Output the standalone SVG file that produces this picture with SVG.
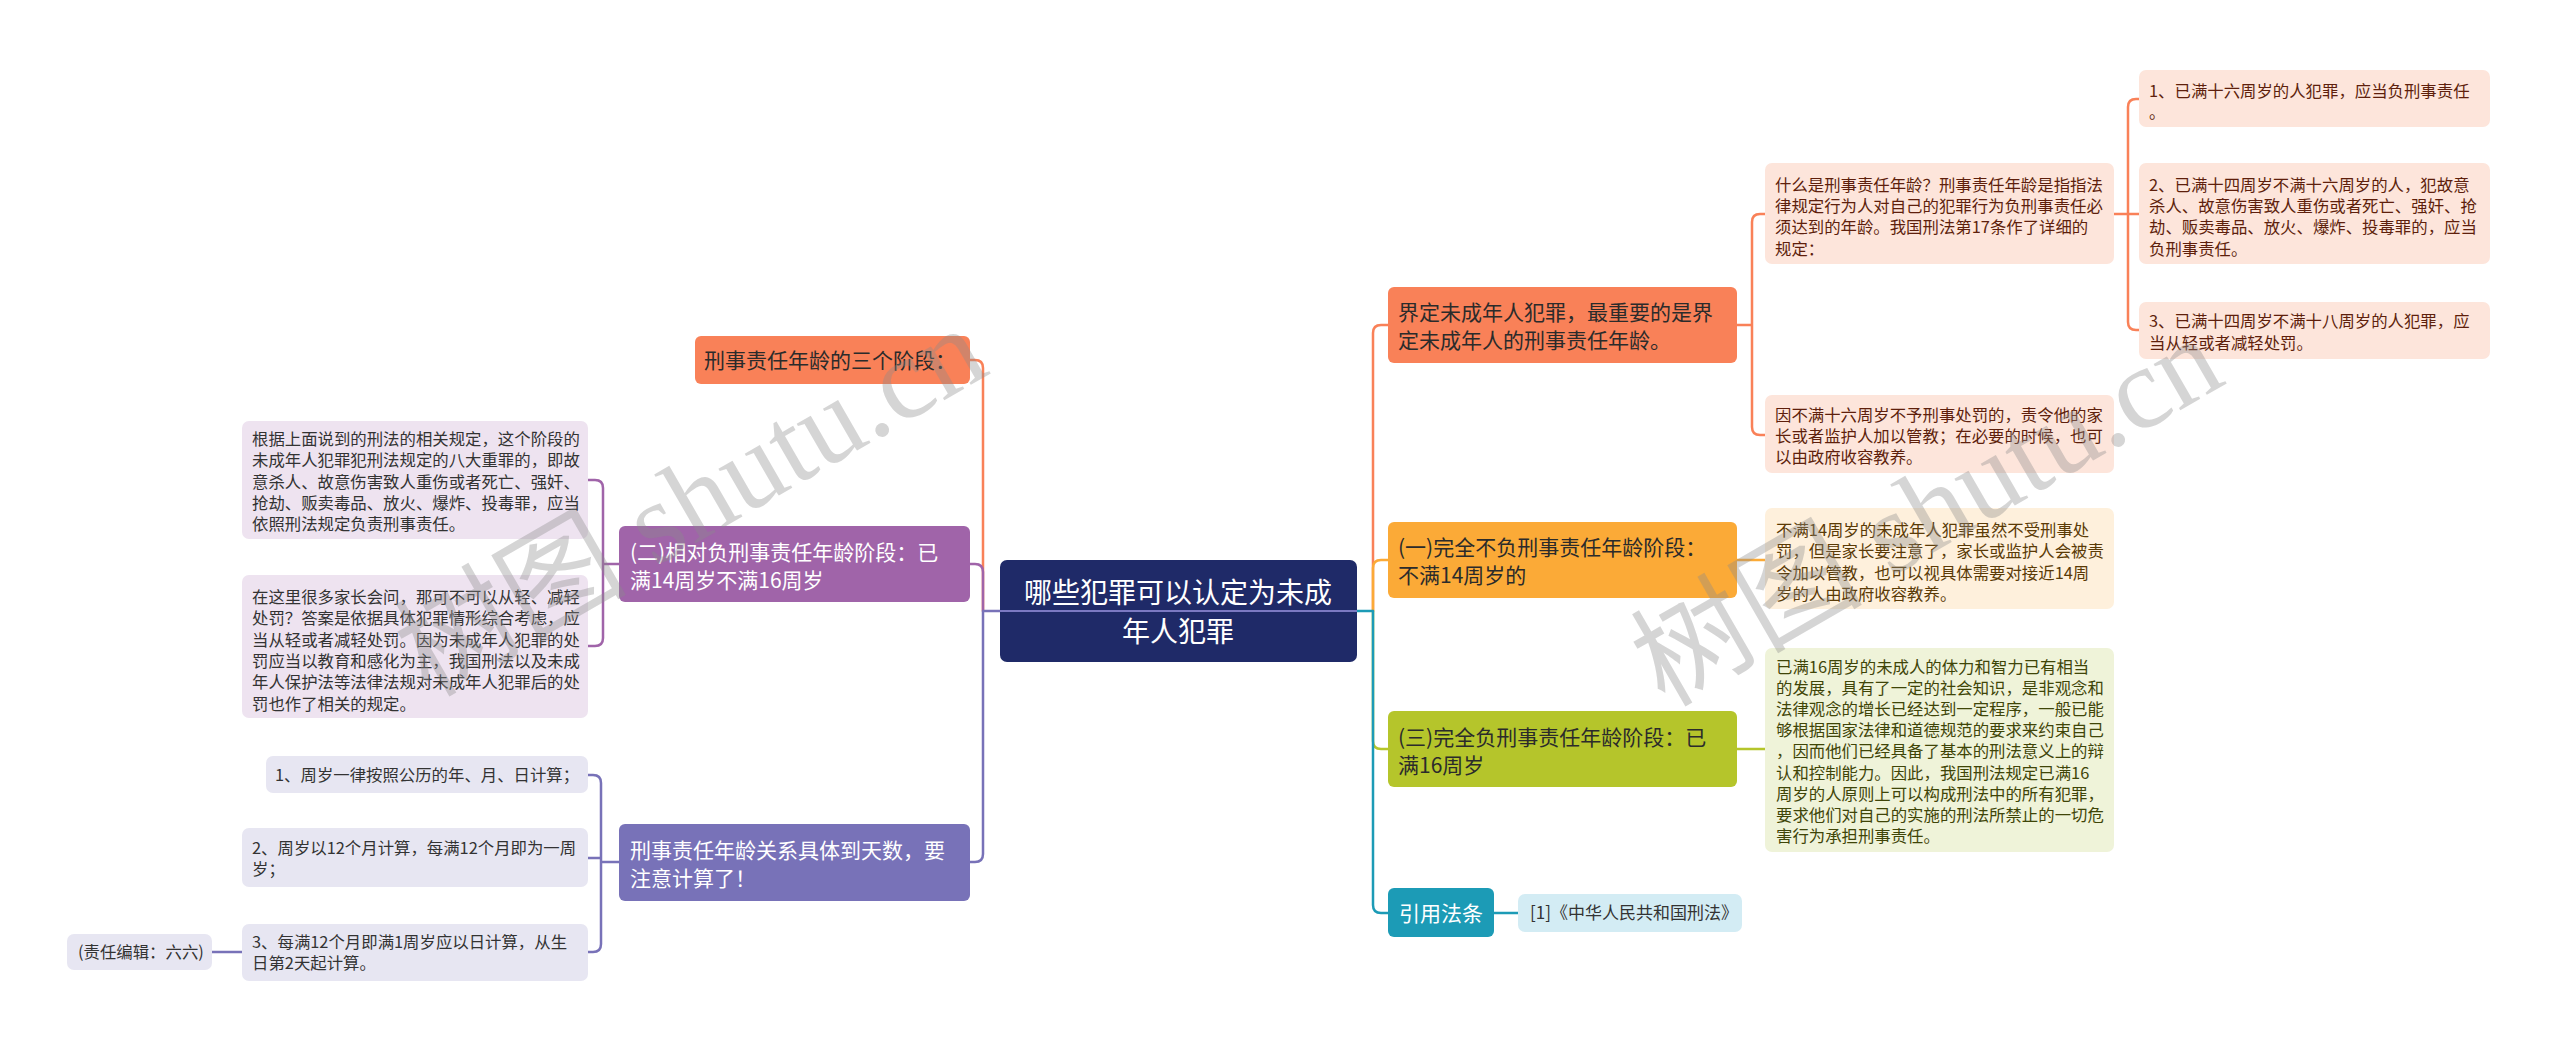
<svg xmlns="http://www.w3.org/2000/svg" width="2560" height="1052" viewBox="0 0 2560 1052">
<style>
text{font-family:"Noto Sans CJK SC","Liberation Sans",sans-serif;}
.h{font-size:21px;}
.s{font-size:16.4px;}
.w{fill:#ffffff;}
.d{fill:#2b2b2b;}
.pk{fill:#5e1f0c;}
.cr{fill:#5a3a06;}
.gr{fill:#3f4508;}
.lv{fill:#333333;}
.c{fill:none;stroke-width:2.5;stroke-linecap:round;stroke-linejoin:round;}
.wm{font-family:"Liberation Serif","Noto Sans CJK SC",serif;font-size:116px;fill:#8a8a8a;fill-opacity:0.36;}
</style>
<rect width="2560" height="1052" fill="#ffffff"/>

<g id="connectors">
<path class="c" stroke="#F98158" d="M970,360 H975 Q983,360 983,368 V611"/>
<path class="c" stroke="#A064A9" d="M970,564 H975 Q983,564 983,572 V611"/>
<path class="c" stroke="#7872B8" d="M970,862 H975 Q983,862 983,854 V611 H1000"/>
<path class="c" stroke="#A064A9" d="M619,564 H603 M588,480 H595 Q603,480 603,488 V638 Q603,646 595,646 H588"/>
<path class="c" stroke="#7872B8" d="M619,862 H601 M588,775 H593 Q601,775 601,783 V944 Q601,952 593,952 H588 M601,858 H588 M244,952 H212"/>
<path class="c" stroke="#F98158" d="M1373,611 V333 Q1373,325 1381,325 H1388"/>
<path class="c" stroke="#FBAA37" d="M1373,611 V568 Q1373,560 1381,560 H1388"/>
<path class="c" stroke="#B5C52B" d="M1373,611 V741 Q1373,749 1381,749 H1388"/>
<path class="c" stroke="#1C9BB6" d="M1357,611 H1373 V905 Q1373,913 1381,913 H1388"/>
<path class="c" stroke="#F98158" d="M1737,325 H1752 M1765,214 H1760 Q1752,214 1752,222 V427 Q1752,435 1760,435 H1765"/>
<path class="c" stroke="#F98158" d="M2114,214 H2139 M2139,99 H2136 Q2128,99 2128,107 V322 Q2128,330 2136,330 H2139"/>
<path class="c" stroke="#FBAA37" d="M1737,560 H1765"/>
<path class="c" stroke="#B5C52B" d="M1737,749 H1765"/>
<path class="c" stroke="#1C9BB6" d="M1494,913 H1518"/>
</g>

<g id="root">
<rect x="1000" y="560" width="357" height="102" rx="7" fill="#1F2A68"/>
<text x="1178" y="603" font-size="28" text-anchor="middle" class="w">哪些犯罪可以认定为未成</text>
<text x="1178" y="642" font-size="28" text-anchor="middle" class="w">年人犯罪</text>
<line x1="1000" y1="611" x2="1357" y2="611" stroke="#7B79C2" stroke-width="2"/>
</g>

<g id="n-three-stages">
<rect x="695" y="336" width="275" height="48" rx="6" fill="#F98158"/>
<text x="704" y="367.5" class="h d">刑事责任年龄的三个阶段：</text>
</g>

<g id="n-stage2">
<rect x="619" y="526" width="351" height="76" rx="6" fill="#A064A9"/>
<text x="630" y="559.5" class="h w">(二)相对负刑事责任年龄阶段：已</text>
<text x="630" y="587.5" class="h w">满14周岁不满16周岁</text>
</g>

<g id="n-stage2-a">
<rect x="242" y="421" width="346" height="118" rx="7" fill="#EEE3F0"/>
<text class="s lv" x="252" y="445">根据上面说到的刑法的相关规定，这个阶段的</text>
<text class="s lv" x="252" y="466.3">未成年人犯罪犯刑法规定的八大重罪的，即故</text>
<text class="s lv" x="252" y="487.6">意杀人、故意伤害致人重伤或者死亡、强奸、</text>
<text class="s lv" x="252" y="508.9">抢劫、贩卖毒品、放火、爆炸、投毒罪，应当</text>
<text class="s lv" x="252" y="530.2">依照刑法规定负责刑事责任。</text>
</g>

<g id="n-stage2-b">
<rect x="242" y="575" width="346" height="143" rx="7" fill="#EEE3F0"/>
<text class="s lv" x="252" y="603">在这里很多家长会问，那可不可以从轻、减轻</text>
<text class="s lv" x="252" y="624.3">处罚？答案是依据具体犯罪情形综合考虑，应</text>
<text class="s lv" x="252" y="645.6">当从轻或者减轻处罚。因为未成年人犯罪的处</text>
<text class="s lv" x="252" y="666.9">罚应当以教育和感化为主，我国刑法以及未成</text>
<text class="s lv" x="252" y="688.2">年人保护法等法律法规对未成年人犯罪后的处</text>
<text class="s lv" x="252" y="709.5">罚也作了相关的规定。</text>
</g>

<g id="n-days">
<rect x="619" y="824" width="351" height="77" rx="6" fill="#7872B8"/>
<text x="630" y="857.5" class="h w">刑事责任年龄关系具体到天数，要</text>
<text x="630" y="885.5" class="h w">注意计算了！</text>
</g>

<g id="n-days-1">
<rect x="266" y="756" width="322" height="37" rx="7" fill="#E7E6F2"/>
<text class="s lv" x="275" y="780.5">1、周岁一律按照公历的年、月、日计算；</text>
</g>

<g id="n-days-2">
<rect x="242" y="828" width="346" height="59" rx="7" fill="#E7E6F2"/>
<text class="s lv" x="252" y="853.5">2、周岁以12个月计算，每满12个月即为一周</text>
<text class="s lv" x="252" y="875">岁；</text>
</g>

<g id="n-days-3">
<rect x="242" y="924" width="346" height="57" rx="7" fill="#E7E6F2"/>
<text class="s lv" x="252" y="947.5">3、每满12个月即满1周岁应以日计算，从生</text>
<text class="s lv" x="252" y="969">日第2天起计算。</text>
</g>

<g id="n-editor">
<rect x="67" y="934" width="145" height="36" rx="7" fill="#E7E6F2"/>
<text class="s lv" x="78" y="958">(责任编辑：六六)</text>
</g>

<g id="n-define">
<rect x="1388" y="287" width="349" height="76" rx="6" fill="#F98158"/>
<text x="1398" y="319.5" class="h d">界定未成年人犯罪，最重要的是界</text>
<text x="1398" y="347.5" class="h d">定未成年人的刑事责任年龄。</text>
</g>

<g id="n-define-a">
<rect x="1765" y="163" width="349" height="101" rx="7" fill="#FDE5DB"/>
<text class="s pk" x="1775" y="191">什么是刑事责任年龄？刑事责任年龄是指指法</text>
<text class="s pk" x="1775" y="212.2">律规定行为人对自己的犯罪行为负刑事责任必</text>
<text class="s pk" x="1775" y="233.4">须达到的年龄。我国刑法第17条作了详细的</text>
<text class="s pk" x="1775" y="254.6">规定：</text>
</g>

<g id="n-define-a1">
<rect x="2139" y="70" width="351" height="57" rx="7" fill="#FDE5DB"/>
<text class="s pk" x="2149" y="96.5">1、已满十六周岁的人犯罪，应当负刑事责任</text>
<text class="s pk" x="2149" y="118">。</text>
</g>

<g id="n-define-a2">
<rect x="2139" y="163" width="351" height="101" rx="7" fill="#FDE5DB"/>
<text class="s pk" x="2149" y="191">2、已满十四周岁不满十六周岁的人，犯故意</text>
<text class="s pk" x="2149" y="212.2">杀人、故意伤害致人重伤或者死亡、强奸、抢</text>
<text class="s pk" x="2149" y="233.4">劫、贩卖毒品、放火、爆炸、投毒罪的，应当</text>
<text class="s pk" x="2149" y="254.6">负刑事责任。</text>
</g>

<g id="n-define-a3">
<rect x="2139" y="302" width="351" height="57" rx="7" fill="#FDE5DB"/>
<text class="s pk" x="2149" y="327">3、已满十四周岁不满十八周岁的人犯罪，应</text>
<text class="s pk" x="2149" y="348.5">当从轻或者减轻处罚。</text>
</g>

<g id="n-define-b">
<rect x="1765" y="395" width="349" height="78" rx="7" fill="#FDE5DB"/>
<text class="s pk" x="1775" y="421">因不满十六周岁不予刑事处罚的，责令他的家</text>
<text class="s pk" x="1775" y="442.2">长或者监护人加以管教；在必要的时候，也可</text>
<text class="s pk" x="1775" y="463.4">以由政府收容教养。</text>
</g>

<g id="n-stage1">
<rect x="1388" y="522" width="349" height="76" rx="6" fill="#FBAA37"/>
<text x="1398" y="554.5" class="h d">(一)完全不负刑事责任年龄阶段：</text>
<text x="1398" y="582.5" class="h d">不满14周岁的</text>
</g>

<g id="n-stage1-a">
<rect x="1765" y="508" width="349" height="101" rx="7" fill="#FEF0DC"/>
<text class="s cr" x="1776" y="536">不满14周岁的未成年人犯罪虽然不受刑事处</text>
<text class="s cr" x="1776" y="557.3">罚，但是家长要注意了，家长或监护人会被责</text>
<text class="s cr" x="1776" y="578.6">令加以管教，也可以视具体需要对接近14周</text>
<text class="s cr" x="1776" y="599.9">岁的人由政府收容教养。</text>
</g>

<g id="n-stage3">
<rect x="1388" y="711" width="349" height="76" rx="6" fill="#B5C52B"/>
<text x="1398" y="744.5" class="h d">(三)完全负刑事责任年龄阶段：已</text>
<text x="1398" y="772.5" class="h d">满16周岁</text>
</g>

<g id="n-stage3-a">
<rect x="1765" y="648" width="349" height="204" rx="7" fill="#EFF3D9"/>
<text class="s gr" x="1776" y="673">已满16周岁的未成人的体力和智力已有相当</text>
<text class="s gr" x="1776" y="694.1">的发展，具有了一定的社会知识，是非观念和</text>
<text class="s gr" x="1776" y="715.2">法律观念的增长已经达到一定程序，一般已能</text>
<text class="s gr" x="1776" y="736.3">够根据国家法律和道德规范的要求来约束自己</text>
<text class="s gr" x="1776" y="757.4">，因而他们已经具备了基本的刑法意义上的辩</text>
<text class="s gr" x="1776" y="778.5">认和控制能力。因此，我国刑法规定已满16</text>
<text class="s gr" x="1776" y="799.6">周岁的人原则上可以构成刑法中的所有犯罪，</text>
<text class="s gr" x="1776" y="820.7">要求他们对自己的实施的刑法所禁止的一切危</text>
<text class="s gr" x="1776" y="841.8">害行为承担刑事责任。</text>
</g>

<g id="n-law">
<rect x="1388" y="888" width="106" height="49" rx="6" fill="#1C9BB6"/>
<text x="1399" y="920.5" class="h w">引用法条</text>
</g>

<g id="n-law-1">
<rect x="1518" y="894" width="224" height="38" rx="7" fill="#D3ECF4"/>
<text x="1530" y="919" font-size="17" class="lv">[1]《中华人民共和国刑法》</text>
</g>

<g id="watermarks">
<text class="wm" transform="translate(690,500) rotate(-30)" text-anchor="middle" dy="0.35em">树图 shutu.cn</text>
<text class="wm" transform="translate(1926,510) rotate(-30)" text-anchor="middle" dy="0.35em">树图 shutu.cn</text>
</g>
</svg>
